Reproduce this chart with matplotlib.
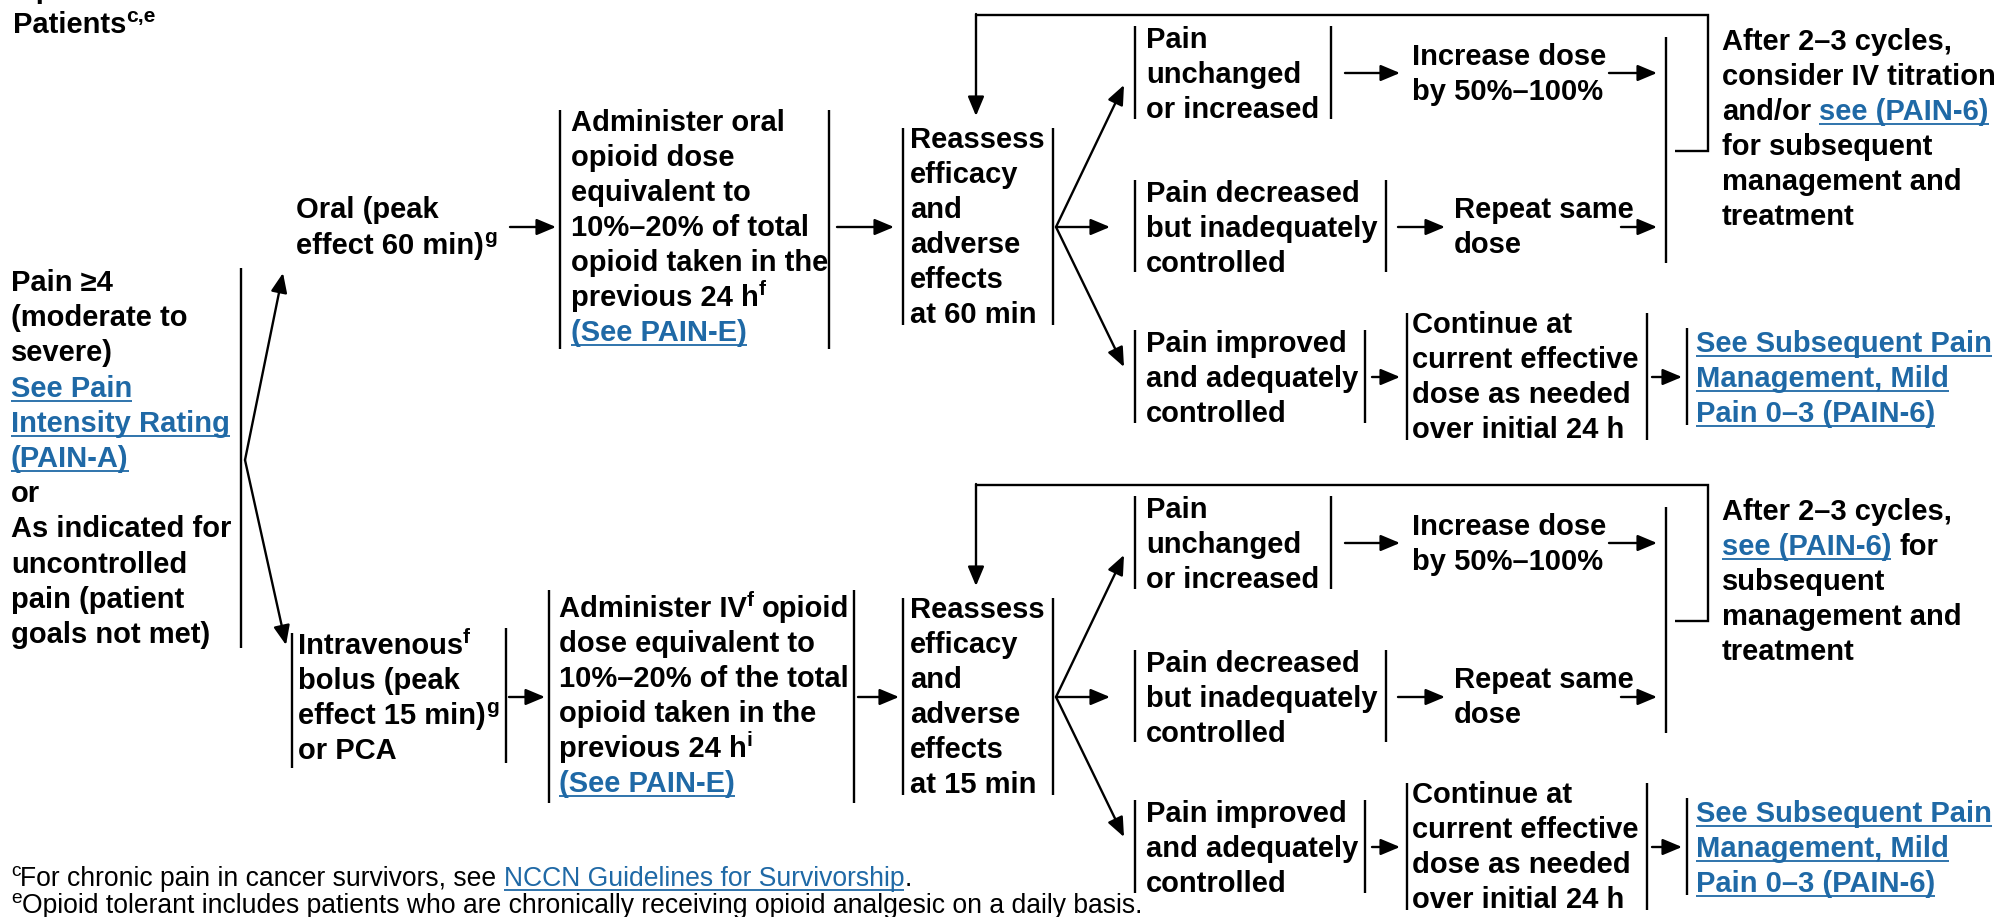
import matplotlib.pyplot as plt

# ---------------- text of every node (plain string = bold black line) ----------------
title_lines = ['Opioid Tolerant', [('Patients', 'b'), ('c,e', 'sup')]]
start_lines = ['Pain ≥4', '(moderate to', 'severe)',
               [('See Pain', 'l')], [('Intensity Rating', 'l')], [('(PAIN-A)', 'l')],
               'or', 'As indicated for', 'uncontrolled', 'pain (patient', 'goals not met)']
oral_lines = ['Oral (peak', [('effect 60 min)', 'b'), ('g', 'sup')]]
iv_route_lines = [[('Intravenous', 'b'), ('f', 'sup')], 'bolus (peak',
                  [('effect 15 min)', 'b'), ('g', 'sup')], 'or PCA']
admin_oral_lines = ['Administer oral', 'opioid dose', 'equivalent to', '10%–20% of total',
                    'opioid taken in the', [('previous 24 h', 'b'), ('f', 'sup')],
                    [('(See PAIN-E)', 'l')]]
admin_iv_lines = [[('Administer IV', 'b'), ('f', 'sup'), (' opioid', 'b')], 'dose equivalent to',
                  '10%–20% of the total', 'opioid taken in the',
                  [('previous 24 h', 'b'), ('i', 'sup')], [('(See PAIN-E)', 'l')]]
reassess_oral_lines = ['Reassess', 'efficacy', 'and', 'adverse', 'effects', 'at 60 min']
reassess_iv_lines = ['Reassess', 'efficacy', 'and', 'adverse', 'effects', 'at 15 min']
unchanged_lines = ['Pain', 'unchanged', 'or increased']
decreased_lines = ['Pain decreased', 'but inadequately', 'controlled']
improved_lines = ['Pain improved', 'and adequately', 'controlled']
increase_lines = ['Increase dose', 'by 50%–100%']
repeat_lines = ['Repeat same', 'dose']
continue_lines = ['Continue at', 'current effective', 'dose as needed', 'over initial 24 h']
mild_lines = [[('See Subsequent Pain', 'l')], [('Management, Mild', 'l')],
              [('Pain 0–3 (PAIN-6)', 'l')]]
after_oral_lines = ['After 2–3 cycles,', 'consider IV titration',
                    [('and/or ', 'b'), ('see (PAIN-6)', 'l')],
                    'for subsequent', 'management and', 'treatment']
after_iv_lines = ['After 2–3 cycles,', [('see (PAIN-6)', 'l'), (' for', 'b')],
                  'subsequent', 'management and', 'treatment']
footnote_lines = [[('c', 'rsup'), ('For chronic pain in cancer survivors, see ', 'r'),
                   ('NCCN Guidelines for Survivorship', 'rl'), ('.', 'r')],
                  [('e', 'rsup'), ('Opioid tolerant includes patients who are chronically '
                                   'receiving opioid analgesic on a daily basis.', 'r')]]

# ---------------- style ----------------
FONT = ['Liberation Sans', 'DejaVu Sans']
BLUE = '#1f69a6'
FS = 21.0        # main bold text (pt)
FS_NOTE = 19.1   # footnotes
LH = 35.0        # line height (px)
LW = 1.7

fig = plt.figure(figsize=(19.99, 9.17), dpi=100)
ax = fig.add_axes([0, 0, 1, 1])
ax.set_xlim(0, 1999)
ax.set_ylim(917, 0)
ax.axis('off')
renderer = fig.canvas.get_renderer()


def width_of(s, size, weight):
    t = ax.text(0, 0, s, fontsize=size, fontweight=weight, family=FONT)
    w = t.get_window_extent(renderer).width
    t.remove()
    return w


SPACE = {}


def space_w(size, weight):
    key = (size, weight)
    if key not in SPACE:
        SPACE[key] = width_of('x x', size, weight) - width_of('xx', size, weight)
    return SPACE[key]


def draw_line(x, y, line):
    runs = [(line, 'b')] if isinstance(line, str) else line
    for text, kind in runs:
        regular = kind.startswith('r')
        weight = 'normal' if regular else 'bold'
        base = FS_NOTE if regular else FS
        sup = kind.endswith('sup')
        size = base * 0.72 if sup else base
        color = BLUE if kind in ('l', 'rl') else 'black'
        lead = len(text) - len(text.lstrip(' '))
        trail = len(text) - len(text.rstrip(' '))
        x += lead * space_w(size, weight)
        core = text.strip(' ')
        yy = y - base * 0.52 if sup else y
        t = ax.text(x, yy, core, fontsize=size, fontweight=weight, family=FONT,
                    color=color, ha='left', va='baseline')
        w = t.get_window_extent(renderer).width
        if kind in ('l', 'rl'):
            ax.plot([x, x + w], [y + 4, y + 4], color=BLUE, lw=1.3, solid_capstyle='butt')
        x += w + trail * space_w(size, weight)


def draw_block(x, y0, lines, lh=LH):
    for i, line in enumerate(lines):
        draw_line(x, y0 + i * lh, line)


def seg(xs, ys):
    ax.plot(xs, ys, color='black', lw=LW, solid_capstyle='butt', solid_joinstyle='miter')


def bar(x, y0, y1):
    seg([x, x], [y0, y1])


def arrow(x0, y0, x1, y1):
    ax.annotate('', xy=(x1, y1), xytext=(x0, y0),
                arrowprops=dict(arrowstyle='-|>,head_length=0.62,head_width=0.26',
                                mutation_scale=19, lw=LW, color='black',
                                shrinkA=0, shrinkB=0))


# ---------------- left column ----------------
draw_block(13, -2, title_lines)
draw_block(11, 291, start_lines, lh=35.2)
bar(241, 268, 648)
arrow(245, 460, 283, 273)
arrow(245, 460, 286, 645)

# oral route
draw_block(296, 218, oral_lines, lh=36)
arrow(510, 227, 556, 227)
bar(560, 110, 349)
draw_block(571, 131, admin_oral_lines)
bar(829, 110, 349)
arrow(837, 227, 894, 227)

# IV route
bar(292, 633, 768)
draw_block(298, 654, iv_route_lines)
bar(506, 628, 763)
arrow(509, 697, 545, 697)
bar(549, 590, 803)
draw_block(559, 617, admin_iv_lines)
bar(854, 590, 803)
arrow(858, 697, 899, 697)


# ---------------- reassessment panels ----------------
def branch_panel(oy, reassess_lines, after_lines):
    bar(903, oy + 128, oy + 325)
    draw_block(910, oy + 148, reassess_lines)
    bar(1053, oy + 128, oy + 325)
    arrow(1056, oy + 227, 1124, oy + 85)
    arrow(1056, oy + 227, 1110, oy + 227)
    arrow(1056, oy + 227, 1124, oy + 367)
    # feedback loop
    seg([1675, 1708, 1708, 976], [oy + 151, oy + 151, oy + 15, oy + 15])
    arrow(976, oy + 14, 976, oy + 116)
    # outcomes
    bar(1135, oy + 26, oy + 119)
    draw_block(1146, oy + 48, unchanged_lines)
    bar(1331, oy + 26, oy + 119)
    bar(1135, oy + 180, oy + 272)
    draw_block(1146, oy + 202, decreased_lines)
    bar(1386, oy + 180, oy + 272)
    bar(1135, oy + 330, oy + 423)
    draw_block(1146, oy + 352, improved_lines)
    bar(1365, oy + 330, oy + 423)
    # actions
    arrow(1345, oy + 73, 1400, oy + 73)
    draw_block(1412, oy + 65, increase_lines)
    arrow(1609, oy + 73, 1657, oy + 73)
    arrow(1398, oy + 227, 1445, oy + 227)
    draw_block(1454, oy + 218, repeat_lines)
    arrow(1621, oy + 227, 1657, oy + 227)
    bar(1666, oy + 37, oy + 263)
    draw_block(1722, oy + 50, after_lines)
    arrow(1372, oy + 377, 1400, oy + 377)
    bar(1407, oy + 313, oy + 440)
    draw_block(1412, oy + 333, continue_lines)
    bar(1647, oy + 313, oy + 440)
    arrow(1652, oy + 377, 1682, oy + 377)
    bar(1687, oy + 328, oy + 425)
    draw_block(1696, oy + 352, mild_lines)


branch_panel(0, reassess_oral_lines, after_oral_lines)
branch_panel(470, reassess_iv_lines, after_iv_lines)

# ---------------- footnotes ----------------
draw_block(11, 886, footnote_lines, lh=27)

fig.savefig('out.png', dpi=100, facecolor='white')
